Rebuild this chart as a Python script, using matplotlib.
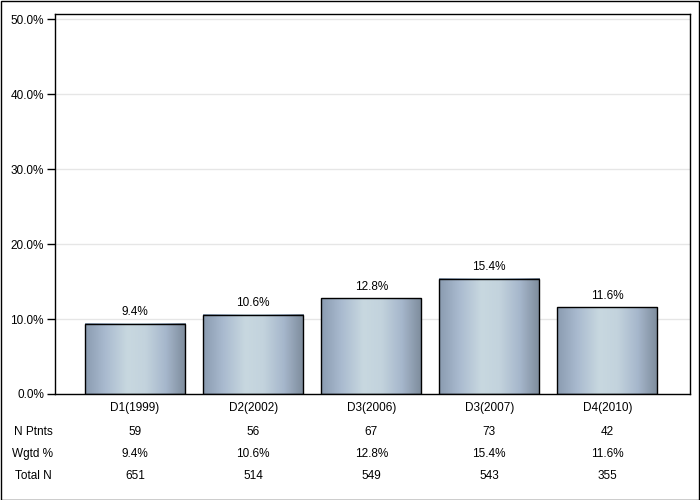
import matplotlib
matplotlib.use("Agg")
import matplotlib.pyplot as plt
import numpy as np
from matplotlib.colors import LinearSegmentedColormap
from matplotlib.patches import Rectangle

plt.rcParams['font.family'] = ['Liberation Sans', 'DejaVu Sans']

categories = ["D1(1999)", "D2(2002)", "D3(2006)", "D3(2007)", "D4(2010)"]
values = [9.4, 10.6, 12.8, 15.4, 11.6]
n_ptnts = ["59", "56", "67", "73", "42"]
wgtd = ["9.4%", "10.6%", "12.8%", "15.4%", "11.6%"]
total_n = ["651", "514", "549", "543", "355"]
yticks = [0, 10, 20, 30, 40, 50]

W, H = 700, 500
FS = 8.5
fig = plt.figure(figsize=(W / 100, H / 100), dpi=100)
fig.patch.set_facecolor("white")
fig.add_artist(Rectangle((0.5 / W, 0.5 / H), 1 - 1.5 / W, 1 - 1.5 / H, transform=fig.transFigure,
                         fill=False, edgecolor="black", linewidth=1))

ax_l, ax_r, ax_t, ax_b = 55, 690, 14, 394
ax = fig.add_axes([ax_l / W, 1 - ax_b / H, (ax_r - ax_l) / W, (ax_b - ax_t) / H])

cmap = LinearSegmentedColormap.from_list("g", [
    (0.0, "#8a9bb0"), (0.2, "#a9bacf"), (0.42, "#c8d8e0"), (0.6, "#c3d3dd"),
    (0.8, "#a6b7cc"), (1.0, "#7d8b9b")])
grad = np.linspace(0, 1, 256).reshape(1, -1)
bw = 0.847
for i, v in enumerate(values):
    x0 = i - bw / 2
    ax.imshow(grad, cmap=cmap, aspect="auto", extent=(x0, x0 + bw, 0, v), zorder=2, interpolation="bilinear")
    ax.add_patch(Rectangle((x0, 0), bw, v, fill=False, edgecolor="black", linewidth=1, zorder=3))
    ax.text(i, v + 0.7, f"{v:.1f}%", ha="center", va="bottom", fontsize=FS, zorder=4)

ax.set_yticks(yticks)
ax.set_yticklabels([f"{t:.1f}%" for t in yticks], fontsize=FS)
ax.yaxis.grid(True, color="#e6e6e6", linewidth=1, zorder=0)
ax.set_axisbelow(True)
ax.set_xticks([])
ax.tick_params(axis="y", length=6, width=1, pad=2)
for s in ["left", "bottom", "top", "right"]:
    ax.spines[s].set_linewidth(1)
ax.set_xlim(-0.678, 4.70)
ax.set_ylim(0, 50.7)

rows = [("", categories, 408), ("N Ptnts", n_ptnts, 432), ("Wgtd %", wgtd, 454), ("Total N", total_n, 476)]
for label, vals, ypix in rows:
    yf = 1 - ypix / H
    if label:
        fig.text(33 / W, yf, label, ha="center", va="center", fontsize=FS)
    ya = (yf - (1 - ax_b / H)) / ((ax_b - ax_t) / H)
    for i, s in enumerate(vals):
        ax.text(i, ya, s, transform=ax.get_xaxis_transform(), ha="center", va="center",
                fontsize=FS, clip_on=False)

fig.savefig("out.png", dpi=100)
